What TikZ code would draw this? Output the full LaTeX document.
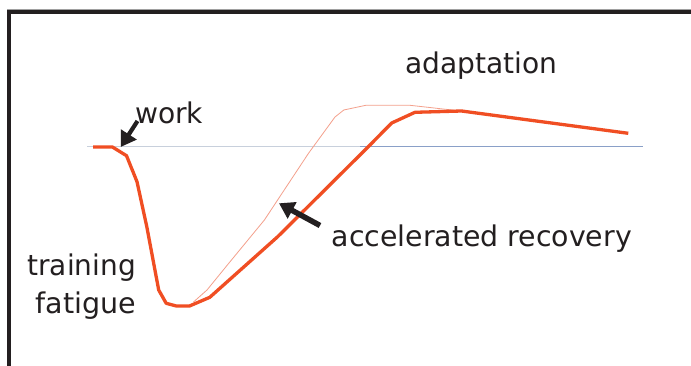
\documentclass[tikz,border=0pt]{standalone}
\usepackage{fontspec}
\usepackage{graphicx}
\setmainfont{DejaVu Sans Condensed}
\usetikzlibrary{arrows.meta}
\definecolor{inkdark}{HTML}{231F20}
\definecolor{curvered}{HTML}{F04E23}
\definecolor{ghostred}{HTML}{F4A08C}
\definecolor{baselight}{HTML}{C8D0DC}
\definecolor{basedark}{HTML}{8AA0C8}
\definecolor{rulegrey}{HTML}{A0A0A0}
% text stretched to a given width, natural height kept
\newcommand{\fitto}[2]{\resizebox{#1}{\height}{#2}}
\tikzset{
  label text/.style={anchor=base west, inner sep=0pt, text=inkdark,
    font=\fontsize{28.5}{32}\selectfont},
  response/.style={draw=curvered, line width=3.3pt, line join=round},
  faster/.style={draw=ghostred, line width=0.8pt, line join=round},
  pointer/.style={draw=inkdark, line width=#1,
    -{Triangle[length=15pt, width=18pt]}},
}
\begin{document}
\begin{tikzpicture}[x=1pt, y=-1pt]
  \useasboundingbox (0,0) rectangle (691,366);
  \fill[white] (0,0) rectangle (691,366);

  % frame
  \draw[rulegrey, line width=1pt] (7,9.4) -- (691,9.4);
  \draw[inkdark, line width=3.7pt, line join=miter] (691,12.2) -- (8.8,12.2) -- (8.8,366);

  % baseline
  \draw[baselight, line width=1pt] (87,147) -- (360,147);
  \draw[basedark, line width=1pt] (360,147) -- (643,147);

  % accelerated recovery curve
  \draw[faster] (193.5,302) -- (207,290) -- (229,263) -- (264.4,220) -- (308.5,153.3)
    -- (335,117) -- (343.8,110) -- (365.8,105.3) -- (409.9,105.3) -- (461,111);

  % normal response curve
  \draw[response] (93,147) -- (112.4,147) -- (126.5,155.7) -- (137,181.7) -- (146.8,226.7)
    -- (158.7,290) -- (166.2,303.3) -- (176.3,306) -- (189.5,306) -- (209.8,297.3)
    -- (277.7,236.7) -- (366.7,148.3) -- (391.7,123) -- (415,112.3) -- (461.5,111)
    -- (628.3,133.3);

  % labels
  \node[label text] (adapt) at (405,73.3) {\fitto{152pt}{adaptation}};
  \node[label text] (work) at (135,123.3) {\fitto{68pt}{work}};
  \node[label text] (accel) at (331.5,247) {\fitto{300pt}{accelerated recovery}};
  \node[label text] (train) at (27.3,275.5) {\fitto{108.4pt}{training}};
  \node[label text] (fatig) at (35.3,313.8) {\fitto{100.4pt}{fatigue}};

  % pointers
  \coordinate (worktail) at (137.5,121);
  \coordinate (worktip) at (120.7,147);
  \coordinate (acceltail) at (320,225.5);
  \coordinate (acceltip) at (279,203.3);
  \draw[pointer=4.2pt] (worktail) -- (worktip);
  \draw[pointer=5.5pt] (acceltail) -- (acceltip);
\end{tikzpicture}
\end{document}
